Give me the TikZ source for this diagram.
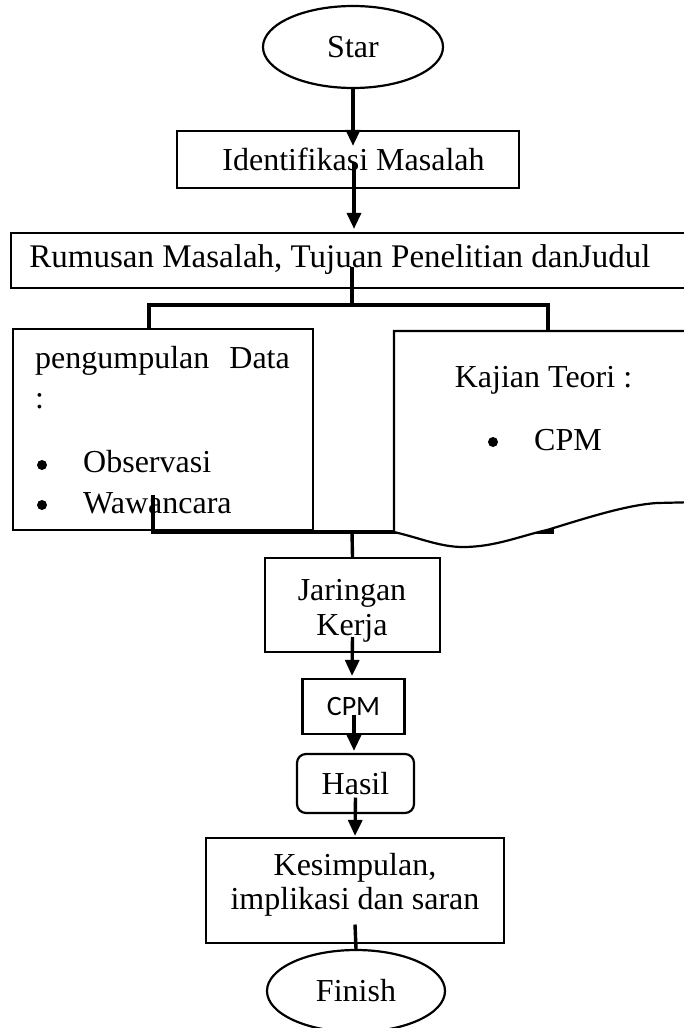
\documentclass[tikz,border=0pt]{standalone}
\usepackage{fontspec}
\setmainfont{Liberation Serif}
\newfontfamily\calfont{Carlito}
\usetikzlibrary{arrows.meta,shapes.geometric,calc}

\begin{document}
\begin{tikzpicture}[x=1pt,y=-1pt,
  every node/.style={font=\fontsize{32}{36}\selectfont, inner sep=0pt},
  shapeline/.style={draw, line width=2.2pt},
  rectbox/.style={shapeline, rectangle, align=center},
  oval/.style={shapeline, ellipse},
  dot/.style={circle, fill, minimum size=10pt},
  flow/.style={line width=3.4pt, -{Triangle[length=16pt,width=14pt]}},
  joint/.style={line width=3.4pt}]

\clip (0,0) rectangle (684,1028);
\fill[white] (0,0) rectangle (684,1028);

% terminals and process boxes
\node[oval, minimum width=180, minimum height=82] (star) at (353,47) {Star};
\node[rectbox, minimum width=342, minimum height=57] (ident) at (348,159.5) {};
\node (identtxt) at (353.5,159) {Identifikasi Masalah};
\node[rectbox, minimum width=700, minimum height=55, anchor=west] (rumus) at (10,260.5) {};
\node (rumustxt) at (340,260) {\fontsize{33}{36}\selectfont Rumusan Masalah, Tujuan Penelitian danJudul};

% data collection box
\node[rectbox, minimum width=300, minimum height=201] (kumpul) at (163,429.5) {};
\node[anchor=base west] (kt1) at (35,368) {pengumpulan};
\node[anchor=base east] (kt2) at (290,368) {Data};
\node[anchor=base west] (kt3) at (35,408) {:};
\node[dot] (kb1) at (42,465) {};
\node[anchor=base west] (ko) at (83,472) {Observasi};
\node[dot] (kb2) at (42,505) {};
\node[anchor=base west] (kw) at (83,513) {Wawancara};

% join of the two branches (drawn under the document shape)
\coordinate (jl) at (153,495);
\coordinate (jr) at (552,505);
\draw[joint] (jl) -- (153,532) -- (552,532) -- (jr);

% theory document shape
\coordinate (docnw) at (394,331);
\filldraw[fill=white, line width=2.2pt]
  (700,331) -- (docnw) -- (394,532)
  .. controls (420,538) and (440,547) .. (463,547)
  .. controls (495,547) and (520,536) .. (547,530)
  .. controls (580,520) and (625,505) .. (657,503)
  -- (700,502);
\node[anchor=base] (kajian) at (543.5,387) {Kajian Teori :};
\node[dot] (kjb) at (493,442) {};
\node[anchor=base west] (kjc) at (534,450) {CPM};

% lower chain
\node[rectbox, minimum width=175, minimum height=94] (jaring) at (352.5,605) {};
\node[anchor=base] (jt1) at (352,600) {Jaringan};
\node[anchor=base] (jt2) at (352,635) {Kerja};
\node[rectbox, minimum width=102, minimum height=55, font=\calfont\fontsize{28}{32}\selectfont]
  (cpm) at (353.5,706.5) {CPM};
\node[rectbox, rounded corners=9pt, minimum width=117, minimum height=59] (hasil) at (355.5,783.5) {Hasil};
\node[rectbox, minimum width=298, minimum height=105] (simpul) at (355,890.5) {};
\node[anchor=base] (st1) at (355,875) {Kesimpulan,};
\node[anchor=base] (st2) at (355,909) {implikasi dan saran};
\node[oval, minimum width=178, minimum height=82] (finish) at (356,991) {Finish};

% connectors
\draw[flow] (star.south) -- ($(ident.north)+(5,16)$);
\draw[flow] ($(ident.center)+(6,3)$) -- ($(rumus.north west)+(344,-3)$);

\coordinate (split) at (352,305);
\draw[joint] ($(rumus.north west)+(342,35)$) -- (split);
\draw[joint] ($(kumpul.north west)+(137,0)$) |- (split) -| ($(docnw)+(154,0)$);

\draw[joint] (352,532) -- (jaring.north);
\draw[flow] ($(jaring.center)+(0,32)$) -- ($(cpm.north)+(-1.5,-2)$);
\draw[flow] ($(cpm.center)+(0.5,8)$) -- ($(hasil.north)+(-1.5,-2)$);
\draw[flow] ($(hasil.center)+(0,14)$) -- ($(simpul.north)+(0,-1)$);
\draw[joint] ($(simpul.center)+(0,34)$) -- (finish.north);
\end{tikzpicture}
\end{document}
